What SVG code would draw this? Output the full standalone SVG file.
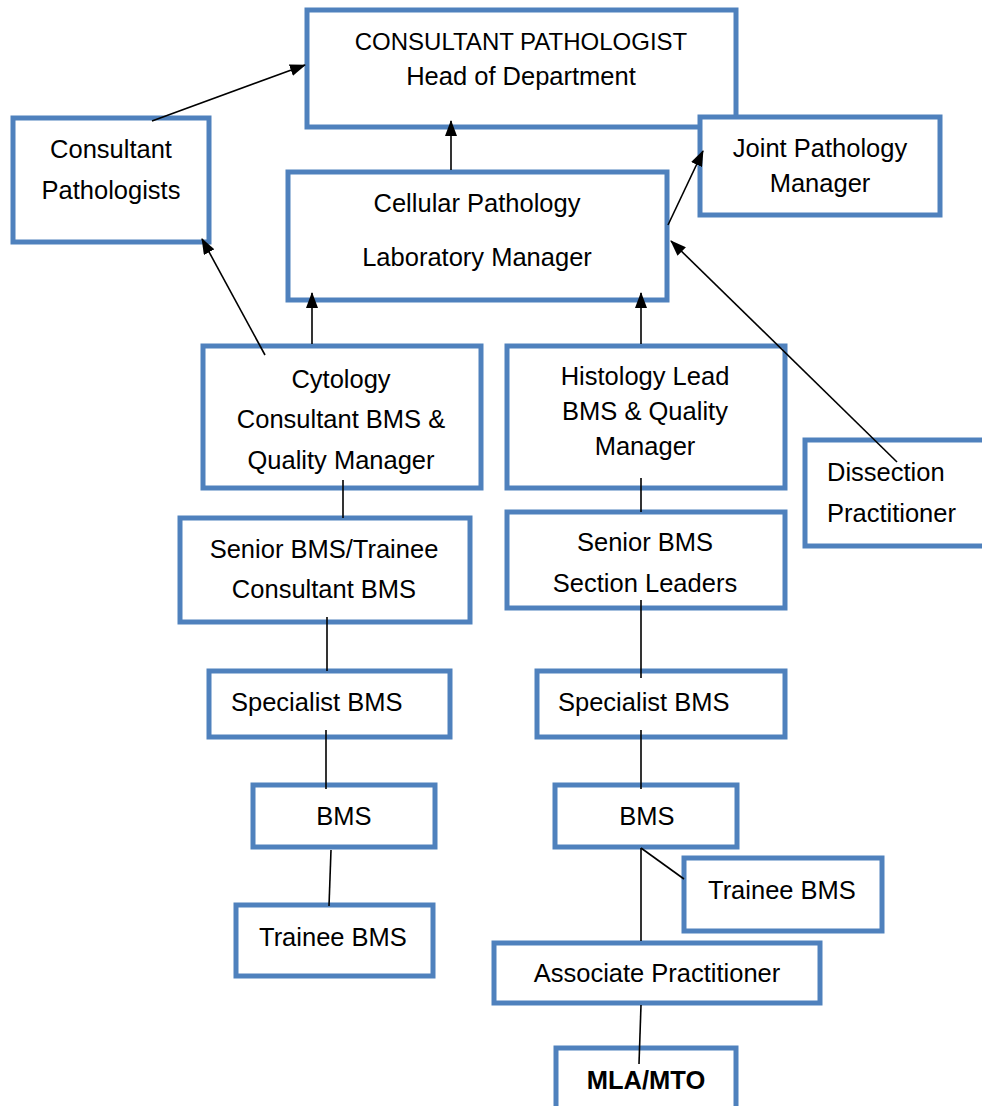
<svg xmlns="http://www.w3.org/2000/svg" width="982" height="1106" viewBox="0 0 982 1106">
<style>
.box{fill:#fff;stroke:#4F81BD;stroke-width:5}
.t{font-family:"Liberation Sans",Arial,sans-serif;font-size:25.5px;fill:#000}
.c{text-anchor:middle}
.b{font-weight:bold}
.ln{stroke:#000;stroke-width:1.6;fill:none}
</style>
<defs>
<marker id="ah" viewBox="0 0 16 12" refX="15" refY="6" markerWidth="16" markerHeight="12" markerUnits="userSpaceOnUse" orient="auto">
<path d="M0,0 L16,6 L0,12 z" fill="#000"/>
</marker>
</defs>
<rect width="982" height="1106" fill="#fff"/>
<g id="head"><rect class="box" x="307" y="10" width="429" height="117"/>
<text class="t c" x="521" y="50" style="font-size:24px">CONSULTANT PATHOLOGIST</text>
<text class="t c" x="521" y="85">Head of Department</text></g>
<g id="consultants"><rect class="box" x="13" y="118" width="196" height="124"/>
<text class="t c" x="111" y="158">Consultant</text>
<text class="t c" x="111" y="199">Pathologists</text></g>
<g id="joint"><rect class="box" x="700" y="117" width="240" height="98"/>
<text class="t c" x="820" y="157">Joint Pathology</text>
<text class="t c" x="820" y="192">Manager</text></g>
<g id="cellular"><rect class="box" x="288" y="172" width="379" height="128"/>
<text class="t c" x="477" y="212">Cellular Pathology</text>
<text class="t c" x="477" y="266">Laboratory Manager</text></g>
<g id="cytology"><rect class="box" x="203" y="346" width="278" height="142"/>
<text class="t c" x="341" y="388">Cytology</text>
<text class="t c" x="341" y="428">Consultant BMS &amp;</text>
<text class="t c" x="341" y="469">Quality Manager</text></g>
<g id="histology"><rect class="box" x="507" y="346" width="278" height="142"/>
<text class="t c" x="645" y="385">Histology Lead</text>
<text class="t c" x="645" y="420">BMS &amp; Quality</text>
<text class="t c" x="645" y="455">Manager</text></g>
<g id="dissection"><rect class="box" x="805" y="440" width="185" height="106"/>
<text class="t" x="827" y="481">Dissection</text>
<text class="t" x="827" y="522">Practitioner</text></g>
<g id="senior-left"><rect class="box" x="180" y="518" width="290" height="104"/>
<text class="t c" x="324" y="558">Senior BMS/Trainee</text>
<text class="t c" x="324" y="598">Consultant BMS</text></g>
<g id="senior-right"><rect class="box" x="507" y="512" width="278" height="96"/>
<text class="t c" x="645" y="551">Senior BMS</text>
<text class="t c" x="645" y="592">Section Leaders</text></g>
<g id="spec-left"><rect class="box" x="209" y="671" width="241" height="66"/>
<text class="t" x="231" y="711">Specialist BMS</text></g>
<g id="spec-right"><rect class="box" x="537" y="671" width="248" height="66"/>
<text class="t" x="558" y="711">Specialist BMS</text></g>
<g id="bms-left"><rect class="box" x="253" y="785" width="182" height="62"/>
<text class="t c" x="344" y="825">BMS</text></g>
<g id="bms-right"><rect class="box" x="555" y="785" width="182" height="62"/>
<text class="t c" x="647" y="825">BMS</text></g>
<g id="trainee-left"><rect class="box" x="236" y="905" width="197" height="71"/>
<text class="t" x="259" y="946">Trainee BMS</text></g>
<g id="trainee-right"><rect class="box" x="684" y="858" width="198" height="73"/>
<text class="t" x="708" y="899">Trainee BMS</text></g>
<g id="associate"><rect class="box" x="494" y="943" width="326" height="60"/>
<text class="t c" x="657" y="982">Associate Practitioner</text></g>
<g id="mla"><rect class="box" x="556" y="1048" width="180" height="70"/>
<text class="t c b" x="646" y="1089">MLA/MTO</text></g>
<g id="connectors">
<line class="ln" x1="152" y1="121" x2="305" y2="65" marker-end="url(#ah)"/>
<line class="ln" x1="451" y1="170" x2="451" y2="121" marker-end="url(#ah)"/>
<line class="ln" x1="668" y1="225" x2="703" y2="151" marker-end="url(#ah)"/>
<line class="ln" x1="265" y1="355" x2="202" y2="239" marker-end="url(#ah)"/>
<line class="ln" x1="312" y1="344" x2="312" y2="293" marker-end="url(#ah)"/>
<line class="ln" x1="641" y1="344" x2="641" y2="293" marker-end="url(#ah)"/>
<line class="ln" x1="897" y1="462" x2="671" y2="241" marker-end="url(#ah)"/>
<line class="ln" x1="343" y1="480" x2="343" y2="518"/>
<line class="ln" x1="641" y1="478" x2="641" y2="512"/>
<line class="ln" x1="327" y1="617" x2="327" y2="671"/>
<line class="ln" x1="641" y1="600" x2="641" y2="678"/>
<line class="ln" x1="326" y1="730" x2="326" y2="789"/>
<line class="ln" x1="641" y1="730" x2="641" y2="789"/>
<line class="ln" x1="331" y1="850" x2="329" y2="906"/>
<line class="ln" x1="641" y1="848" x2="641" y2="941"/>
<line class="ln" x1="641" y1="848" x2="684" y2="879"/>
<line class="ln" x1="641" y1="1005" x2="639" y2="1064"/>
</g>
</svg>
